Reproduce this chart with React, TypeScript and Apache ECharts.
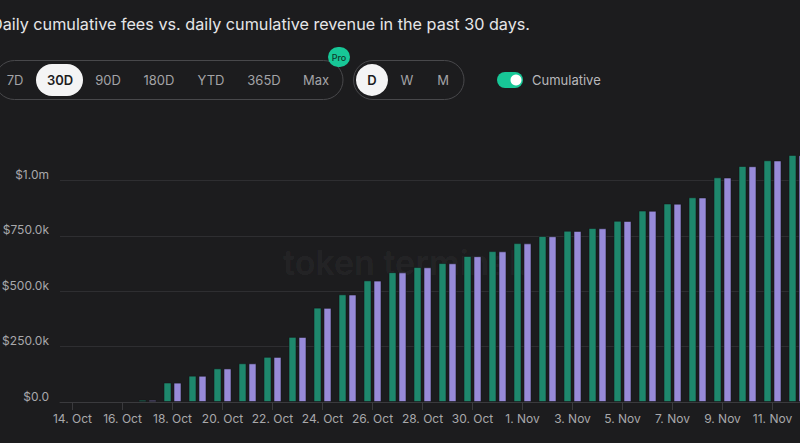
import React, { useEffect, useRef } from "react";
import * as echarts from "echarts";

const categories = [
  "14. Oct", "15. Oct", "16. Oct", "17. Oct", "18. Oct", "19. Oct", "20. Oct", "21. Oct",
  "22. Oct", "23. Oct", "24. Oct", "25. Oct", "26. Oct", "27. Oct", "28. Oct", "29. Oct",
  "30. Oct", "31. Oct", "1. Nov", "2. Nov", "3. Nov", "4. Nov", "5. Nov", "6. Nov",
  "7. Nov", "8. Nov", "9. Nov", "10. Nov", "11. Nov", "12. Nov",
];

const fees = [
  0, 0, 0, 10000, 88000, 119000, 152000, 175000, 204000, 294000, 426000, 486000,
  549000, 586000, 609000, 627000, 659000, 681000, 717000, 749000, 773000, 785000,
  818000, 864000, 896000, 924000, 1014000, 1065000, 1091000, 1115000,
];

const revenue = [
  0, 0, 0, 9500, 87500, 118500, 151500, 174500, 203500, 293500, 425000, 485000,
  548000, 585000, 608000, 626000, 658000, 680000, 716000, 748000, 772000, 784000,
  817000, 863000, 895000, 923000, 1013000, 1064000, 1090000, 1114000,
];

const periodButtons = ["7D", "30D", "90D", "180D", "YTD", "365D", "Max"];
const periodX = [15, 60, 108, 159, 211, 264, 316];
const granButtons = ["D", "W", "M"];
const granX = [372, 407, 443];

const TITLE = "Daily cumulative fees vs. daily cumulative revenue in the past 30 days.";
const OX = 20;
const FONT = "Inter, 'Noto Sans', sans-serif";

function fmt(v: number): string {
  if (v >= 1e6) return "$" + (v / 1e6).toFixed(1) + "m";
  if (v >= 1e3) return "$" + (v / 1e3).toFixed(1) + "k";
  return "$" + v.toFixed(1);
}

const nz = (arr: number[]) => arr.map((v) => (v === 0 ? null : v));

export default function App() {
  const ref = useRef<HTMLDivElement>(null);
  useEffect(() => {
    if (!ref.current) return;
    const chart = echarts.init(ref.current, undefined, { renderer: "svg" });
    const btnColor = "#a3a3a6";
    const graphic: any[] = [
      {
        type: "text",
        style: {
          text: "token terminal.",
          x: OX + 283,
          y: 262,
          fill: "rgba(255,255,255,0.05)",
          font: `600 34px ${FONT}`,
          textVerticalAlign: "middle",
        },
        z: 0,
      },
      {
        type: "text",
        style: {
          text: TITLE,
          x: OX - 9,
          y: 24,
          fill: "#e6e6e8",
          font: `400 16.2px ${FONT}`,
          textVerticalAlign: "middle",
        },
      },
      {
        type: "rect",
        shape: { x: OX - 5, y: 60.5, width: 348, height: 39, r: 19.5 },
        style: { fill: "none", stroke: "#48484b", lineWidth: 1 },
      },
      {
        type: "rect",
        shape: { x: OX + 36, y: 64, width: 47, height: 32, r: 16 },
        style: { fill: "#f4f4f5" },
      },
      {
        type: "rect",
        shape: { x: OX + 353.5, y: 60.5, width: 110.5, height: 39, r: 19.5 },
        style: { fill: "none", stroke: "#48484b", lineWidth: 1 },
      },
      {
        type: "circle",
        shape: { cx: OX + 372, cy: 80, r: 16 },
        style: { fill: "#f4f4f5" },
      },
      {
        type: "rect",
        shape: { x: OX + 328, y: 47, width: 22, height: 20, r: 10 },
        style: { fill: "#17c797" },
      },
      {
        type: "text",
        style: {
          text: "Pro",
          x: OX + 339,
          y: 57,
          fill: "#0f3a2d",
          font: `500 9px ${FONT}`,
          textAlign: "center",
          textVerticalAlign: "middle",
        },
      },
      {
        type: "rect",
        shape: { x: OX + 497, y: 72, width: 26, height: 16, r: 8 },
        style: { fill: "#17c797" },
      },
      {
        type: "circle",
        shape: { cx: OX + 516, cy: 80, r: 5.5 },
        style: { fill: "#ffffff" },
      },
      {
        type: "text",
        style: {
          text: "Cumulative",
          x: OX + 532,
          y: 80,
          fill: "#b8b8bb",
          font: `400 13px ${FONT}`,
          textVerticalAlign: "middle",
        },
      },
    ];
    periodButtons.forEach((t, i) => {
      const active = i === 1;
      graphic.push({
        type: "text",
        style: {
          text: t,
          x: OX + periodX[i],
          y: 80,
          fill: active ? "#1c1c1e" : btnColor,
          font: `${active ? 600 : 400} 13px ${FONT}`,
          textAlign: "center",
          textVerticalAlign: "middle",
        },
      });
    });
    granButtons.forEach((t, i) => {
      const active = i === 0;
      graphic.push({
        type: "text",
        style: {
          text: t,
          x: OX + granX[i],
          y: 80,
          fill: active ? "#1c1c1e" : btnColor,
          font: `${active ? 600 : 400} 13px ${FONT}`,
          textAlign: "center",
          textVerticalAlign: "middle",
        },
      });
    });

    chart.setOption({
      animation: false,
      backgroundColor: "#1c1c1e",
      textStyle: { fontFamily: FONT },
      graphic,
      grid: { left: OX + 60, right: 0, top: 125, bottom: 41, containLabel: false },
      xAxis: {
        type: "category",
        data: categories,
        axisLine: { lineStyle: { color: "#3a3a3d", width: 1 } },
        axisTick: {
          show: true,
          alignWithLabel: true,
          interval: 1,
          length: 8,
          lineStyle: { color: "#3a3a3d" },
        },
        axisLabel: {
          interval: 1,
          color: "#a8a8ab",
          fontSize: 12,
          margin: 10,
          fontFamily: FONT,
        },
      },
      yAxis: {
        type: "value",
        min: 0,
        max: 1250000,
        interval: 250000,
        axisLine: { show: false },
        axisTick: { show: false },
        axisLabel: {
          color: "#a8a8ab",
          fontSize: 12,
          margin: 11,
          verticalAlign: "bottom",
          showMaxLabel: false,
          fontFamily: FONT,
          formatter: (v: number) => fmt(v),
        },
        splitLine: {
          showMaxLine: false,
          lineStyle: { color: "#2e2e31", width: 1 },
        },
      },
      series: [
        {
          name: "Fees",
          type: "bar",
          data: nz(fees),
          barWidth: 8,
          barGap: "25%",
          itemStyle: { color: "#1e876c", borderColor: "rgba(20,20,22,0.55)", borderWidth: 1 },
        },
        {
          name: "Revenue",
          type: "bar",
          data: nz(revenue),
          barWidth: 8,
          itemStyle: { color: "#978ad9", borderColor: "rgba(20,20,22,0.55)", borderWidth: 1 },
        },
      ],
    });
    return () => chart.dispose();
  }, []);

  return (
    <div
      style={{
        position: "fixed",
        left: 0,
        top: 0,
        width: 800,
        height: 443,
        overflow: "hidden",
        background: "#1c1c1e",
      }}
    >
      <div
        ref={ref}
        style={{ position: "absolute", left: -OX, top: 0, width: 810 + OX, height: 443 }}
      />
    </div>
  );
}
